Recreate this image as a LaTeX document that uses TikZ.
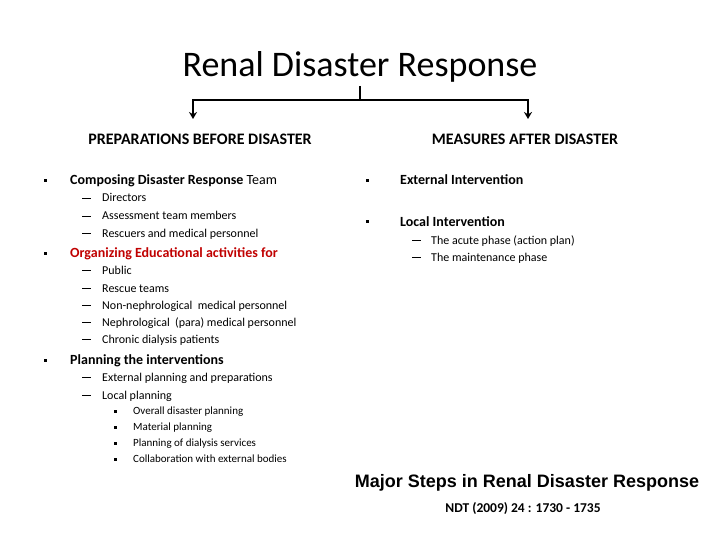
\documentclass[tikz,border=0pt]{standalone}
\usepackage{fontspec}
\setmainfont{Carlito}
\newfontfamily\arialfont{Liberation Sans}
\usetikzlibrary{arrows.meta,positioning}
\definecolor{orgred}{RGB}{192,0,0}
\newcommand{\subdash}{\rule[0.25em]{0.75em}{0.7pt}}

\begin{document}
\begin{tikzpicture}[
    x=1pt, y=-1pt,
    ttl/.style={font=\fontsize{36}{42}\selectfont},
    hd/.style={font=\fontsize{16}{19}\selectfont\bfseries},
    lone/.style={anchor=base west, inner sep=0pt, font=\fontsize{14}{17}\selectfont\bfseries},
    ltwo/.style={anchor=base west, inner sep=0pt, font=\fontsize{12}{14}\selectfont},
    lthree/.style={anchor=base west, inner sep=0pt, font=\fontsize{11}{13}\selectfont},
    sq/.style={fill=black, minimum size=3pt, inner sep=0pt},
    brk/.style={line width=2.5pt},
    arr/.style={brk, -{Stealth[length=7pt,width=8pt]}},
  ]
    \useasboundingbox (0,0) rectangle (720,540);

    % header and bracket
    \node[ttl] (title) at (360,67) {Renal Disaster Response};
    \node[hd] (prep) at (200,139) {PREPARATIONS BEFORE DISASTER};
    \node[hd] (meas) at (525,139) {MEASURES AFTER DISASTER};
    \coordinate (hub) at (360,100);
    \coordinate (lend) at (193,119);
    \coordinate (rend) at (528,119);
    \draw[brk] (title.south) -- (hub);
    \draw[arr] (hub) -| (lend);
    \draw[arr] (hub) -| (rend);

    % before disaster
    \node[sq] (b1) at (45,181) {};
    \node[lone] (team) at (70,185) {Composing Disaster Response \mdseries Team};
    \node[ltwo] (d1) at (82,202) {\subdash};
    \node[ltwo] (dir) at (102,202) {Directors};
    \node[ltwo] (d2) at (82,220) {\subdash};
    \node[ltwo] (ass) at (102,220) {Assessment team members};
    \node[ltwo] (d3) at (82,237) {\subdash};
    \node[ltwo] (resc) at (102,237) {Rescuers and medical personnel};

    \node[sq] (b2) at (45,253) {};
    \node[lone, text=orgred] (edu) at (70,257) {Organizing Educational activities for};
    \node[ltwo] (d4) at (82,274) {\subdash};
    \node[ltwo] (pub) at (102,274) {Public};
    \node[ltwo] (d5) at (82,292) {\subdash};
    \node[ltwo] (rt) at (102,292) {Rescue teams};
    \node[ltwo] (d6) at (82,309) {\subdash};
    \node[ltwo] (nonn) at (102,309) {Non-nephrological\ \ medical personnel};
    \node[ltwo] (d7) at (82,326) {\subdash};
    \node[ltwo] (neph) at (102,326) {Nephrological\ \ (para) medical personnel};
    \node[ltwo] (d8) at (82,343) {\subdash};
    \node[ltwo] (chr) at (102,343) {Chronic dialysis patients};

    \node[sq] (b3) at (45,360) {};
    \node[lone] (plan) at (70,364) {Planning the interventions};
    \node[ltwo] (d9) at (82,381) {\subdash};
    \node[ltwo] (ext) at (102,381) {External planning and preparations};
    \node[ltwo] (d10) at (82,399) {\subdash};
    \node[ltwo] (loc) at (102,399) {Local planning};
    \node[sq] (s1) at (115,411) {};
    \node[lthree] (ov) at (133,414.5) {Overall disaster planning};
    \node[sq] (s2) at (115,427) {};
    \node[lthree] (mat) at (133,430.5) {Material planning};
    \node[sq] (s3) at (115,443) {};
    \node[lthree] (dia) at (133,446.5) {Planning of dialysis services};
    \node[sq] (s4) at (115,459) {};
    \node[lthree] (col) at (133,462.5) {Collaboration with external bodies};

    % after disaster
    \node[sq] (b4) at (367,181) {};
    \node[lone] (exi) at (400,185) {External Intervention};
    \node[sq] (b5) at (367,222) {};
    \node[lone] (loi) at (400,226) {Local Intervention};
    \node[ltwo] (d11) at (412,244) {\subdash};
    \node[ltwo] (acu) at (431,244) {The acute phase (action plan)};
    \node[ltwo] (d12) at (412,261) {\subdash};
    \node[ltwo] (mai) at (431,261) {The maintenance phase};

    % caption
    \node[font=\arialfont\bfseries\fontsize{18}{21}\selectfont] (cap) at (527,483) {Major Steps in Renal Disaster Response};
    \node[font=\fontsize{13.5}{16}\selectfont\bfseries] (ref) at (523,509) {NDT (2009) 24 : 1730 - 1735};
  \end{tikzpicture}
\end{document}
